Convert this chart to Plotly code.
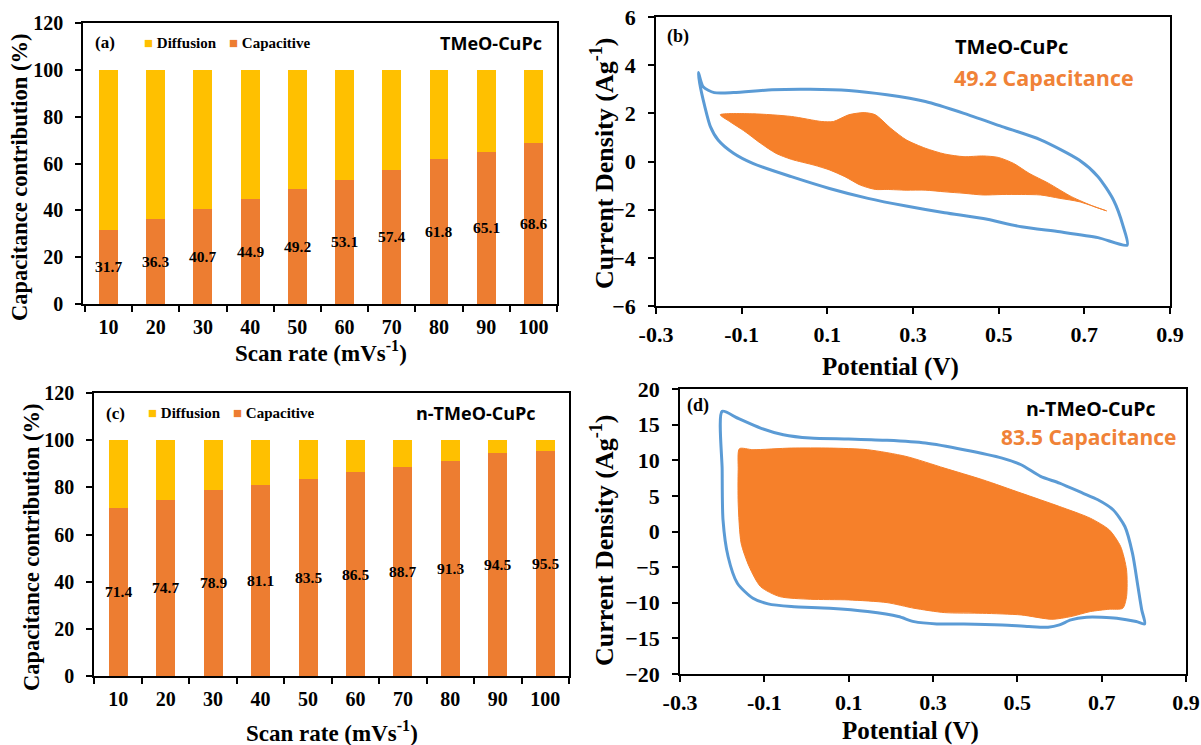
import plotly.graph_objects as go

W, H = 1201, 745

# ---- capacitance contribution data (%) ----
scan_rates = [10, 20, 30, 40, 50, 60, 70, 80, 90, 100]
cap_tmeo = [31.7, 36.3, 40.7, 44.9, 49.2, 53.1, 57.4, 61.8, 65.1, 68.6]
cap_ntmeo = [71.4, 74.7, 78.9, 81.1, 83.5, 86.5, 88.7, 91.3, 94.5, 95.5]
diff_tmeo = [round(100 - v, 1) for v in cap_tmeo]
diff_ntmeo = [round(100 - v, 1) for v in cap_ntmeo]

# ---- CV loops, TMeO-CuPc (potential V, current density A/g) ----
tmeo_total_v = [-0.201, -0.190, -0.164, -0.119, -0.029, 0.060, 0.150, 0.239, 0.329, 0.419,
                0.508, 0.598, 0.688, 0.732, 0.768, 0.791, 0.800,
                0.732, 0.643, 0.553, 0.464, 0.374, 0.284, 0.195, 0.105, 0.016,
                -0.074, -0.119, -0.155, -0.173, -0.186, -0.198, -0.201]
tmeo_total_j = [3.70, 3.10, 2.86, 2.86, 2.98, 3.00, 2.95, 2.77, 2.49, 2.00,
                1.45, 0.90, 0.06, -0.63, -1.60, -2.71, -3.47,
                -3.16, -2.92, -2.71, -2.37, -2.13, -1.85, -1.53, -1.12, -0.63,
                -0.08, 0.34, 0.89, 1.45, 2.28, 3.25, 3.70]
tmeo_cap_v = [-0.150, -0.074, 0.016, 0.087, 0.114, 0.150, 0.186, 0.212, 0.248, 0.284,
              0.329, 0.374, 0.419, 0.464, 0.499, 0.535, 0.571, 0.616, 0.670, 0.724, 0.752,
              0.688, 0.643, 0.598, 0.553, 0.508, 0.464, 0.419, 0.374, 0.329, 0.284,
              0.239, 0.212, 0.177, 0.141, 0.105, 0.069, 0.016, -0.020, -0.056, -0.092,
              -0.128, -0.150]
tmeo_cap_j = [1.94, 1.98, 1.87, 1.66, 1.66, 1.94, 2.03, 1.94, 1.38, 0.90,
              0.55, 0.31, 0.20, 0.23, 0.17, -0.08, -0.49, -0.90, -1.46, -1.88, -2.05,
              -1.67, -1.53, -1.39, -1.37, -1.37, -1.39, -1.32, -1.26, -1.19, -1.19,
              -1.16, -1.16, -0.98, -0.63, -0.35, -0.15, 0.09, 0.34, 0.76, 1.24,
              1.66, 1.94]

# ---- CV loops, n-TMeO-CuPc ----
ntmeo_total_v = [-0.200, -0.164, -0.109, -0.055, 0.009, 0.100, 0.191, 0.282, 0.373, 0.464,
                 0.509, 0.555, 0.600, 0.655, 0.691, 0.727, 0.755, 0.773, 0.786, 0.795, 0.802,
                 0.782, 0.736, 0.700, 0.664, 0.627, 0.600, 0.573, 0.527, 0.464, 0.373,
                 0.309, 0.255, 0.218, 0.145, 0.055, -0.036, -0.091, -0.127, -0.164,
                 -0.186, -0.198, -0.200, -0.200]
ntmeo_total_j = [16.86, 15.93, 14.52, 13.58, 13.11, 12.97, 12.79, 12.41, 11.48, 10.30,
                 9.37, 7.73, 6.79, 5.39, 4.45, 3.05, 0.70, -3.04, -7.73, -11.0, -12.97,
                 -12.64, -12.17, -12.04, -12.04, -12.41, -13.11, -13.44, -13.35, -13.11, -12.97,
                 -12.97, -12.65, -11.94, -11.24, -10.77, -10.54, -10.16, -9.37, -7.26,
                 -3.51, 1.64, 8.67, 16.86]
ntmeo_cap_v = [-0.159, -0.127, -0.036, 0.055, 0.145, 0.236, 0.327, 0.418, 0.509, 0.600,
               0.673, 0.718, 0.745, 0.759, 0.759, 0.750,
               0.718, 0.673, 0.627, 0.582, 0.509, 0.418, 0.327, 0.255, 0.191, 0.100,
               0.009, -0.064, -0.109, -0.136, -0.155, -0.162, -0.162, -0.159]
ntmeo_cap_j = [11.62, 11.48, 11.71, 11.71, 11.48, 10.54, 8.90, 7.26, 5.39, 3.51,
               1.87, 0.23, -2.11, -5.39, -9.13, -10.77,
               -10.91, -11.24, -11.94, -12.32, -11.71, -11.48, -11.38, -10.77, -9.98, -9.60,
               -9.51, -9.13, -7.73, -4.92, -1.64, 3.98, 8.67, 11.62]

# ---- styling ----
CAP_BAR = "#ED7D31"
DIFF_BAR = "#FFC000"
CV_LINE = "#5B9BD5"
CV_FILL = "#F6802A"
LABEL_ORANGE = "#F08237"
SERIF = "Liberation Serif"
SANS = "Open Sans"


def px(xp):
    return xp / W


def py(yp):
    return 1 - yp / H


fig = go.Figure()

# stacked bars
for cap, diff, xa, ya in [(cap_tmeo, diff_tmeo, "x", "y"), (cap_ntmeo, diff_ntmeo, "x3", "y3")]:
    fig.add_trace(go.Bar(x=scan_rates, y=cap, marker_color=CAP_BAR, marker_line_width=0,
                         width=4.0, name="Capacitive", showlegend=False, xaxis=xa, yaxis=ya))
    fig.add_trace(go.Bar(x=scan_rates, y=diff, marker_color=DIFF_BAR, marker_line_width=0,
                         width=4.0, name="Diffusion", showlegend=False, xaxis=xa, yaxis=ya))

# CV loops
for tv, tj, cv, cj, xa, ya in [
    (tmeo_total_v, tmeo_total_j, tmeo_cap_v, tmeo_cap_j, "x2", "y2"),
    (ntmeo_total_v, ntmeo_total_j, ntmeo_cap_v, ntmeo_cap_j, "x4", "y4"),
]:
    fig.add_trace(go.Scatter(x=cv, y=cj, mode="lines", fill="toself", fillcolor=CV_FILL,
                             line=dict(color=CV_FILL, width=1, shape="spline", smoothing=0.7),
                             showlegend=False, xaxis=xa, yaxis=ya))
    fig.add_trace(go.Scatter(x=tv, y=tj, mode="lines",
                             line=dict(color=CV_LINE, width=3, shape="spline", smoothing=0.7),
                             showlegend=False, xaxis=xa, yaxis=ya))


def axis_style(size):
    return dict(showline=True, linecolor="black", linewidth=1.6, mirror=True,
                showgrid=False, zeroline=False, automargin=False,
                tickfont=dict(family=SERIF, size=size, color="black", weight="bold"),
                ticks="outside", ticklen=6, tickwidth=1.5, tickcolor="black")


cat_edges = [r - 5 for r in scan_rates] + [scan_rates[-1] + 5]
bar_x = dict(axis_style(20), tickvals=scan_rates, ticks="", ticklabelstandoff=4,
             minor=dict(tickvals=cat_edges, ticks="outside", ticklen=6,
                        tickwidth=1.5, tickcolor="black"))
bar_y = dict(axis_style(20), range=[0, 120], tickvals=[0, 20, 40, 60, 80, 100, 120],
             ticklabelstandoff=8)
cv_x = dict(axis_style(22), range=[-0.3, 0.9], ticklabelstandoff=2,
            tickvals=[-0.3, -0.1, 0.1, 0.3, 0.5, 0.7, 0.9],
            ticktext=["-0.3", "-0.1", "0.1", "0.3", "0.5", "0.7", "0.9"])
cv_y = dict(axis_style(22), ticklabelstandoff=8)

fig.update_layout(
    width=W, height=H,
    margin=dict(l=0, r=0, t=0, b=0, pad=0, autoexpand=False),
    paper_bgcolor="white", plot_bgcolor="white", barmode="stack", showlegend=False,
    xaxis=dict(bar_x, domain=[px(83), px(557)], range=[4.6, 105.0], anchor="y"),
    yaxis=dict(bar_y, domain=[py(304), py(23)], anchor="x"),
    xaxis3=dict(bar_x, domain=[px(94), px(569)], range=[4.9, 105.0], anchor="y3"),
    yaxis3=dict(bar_y, domain=[py(676), py(393)], anchor="x3"),
    xaxis2=dict(cv_x, domain=[px(656), px(1170)], anchor="y2"),
    yaxis2=dict(cv_y, domain=[py(306), py(17)], range=[-6, 6],
                tickvals=[-6, -4, -2, 0, 2, 4, 6], anchor="x2"),
    xaxis4=dict(cv_x, domain=[px(680), px(1186)], anchor="y4"),
    yaxis4=dict(cv_y, domain=[py(674), py(389)], range=[-20, 20],
                tickvals=[-20, -15, -10, -5, 0, 5, 10, 15, 20], anchor="x4"),
)

ann = []

# value labels centred in the capacitive bars
for cap, xa, ya in [(cap_tmeo, "x", "y"), (cap_ntmeo, "x3", "y3")]:
    for r, v in zip(scan_rates, cap):
        ann.append(dict(x=r, y=v / 2, xref=xa, yref=ya, text=f"{v}", showarrow=False,
                        font=dict(family=SERIF, size=15.5, color="black", weight="bold")))


def note(x, y, text, size, family=SERIF, color="black", xanchor="center", angle=0):
    ann.append(dict(x=px(x), y=py(y), xref="paper", yref="paper", text=text,
                    showarrow=False, xanchor=xanchor, yanchor="middle", textangle=angle,
                    font=dict(family=family, size=size, color=color, weight="bold")))


def legend_item(x, y, color, label):
    note(x, y, f"<span style='color:{color}'>■</span> {label}", 15, xanchor="left")


# panel (a)
note(105, 43, "(a)", 17)
legend_item(142, 43, DIFF_BAR, "Diffusion")
legend_item(227, 43, CAP_BAR, "Capacitive")
note(491, 43, "TMeO-CuPc", 18, family=SANS)
note(19, 178, "Capacitance contribution (%)", 22.5, angle=-90)
note(321, 352, "Scan rate (mVs<sup>-1</sup>)", 23)

# panel (c)
note(115, 413, "(c)", 17)
legend_item(146, 413, DIFF_BAR, "Diffusion")
legend_item(231, 413, CAP_BAR, "Capacitive")
note(476, 413, "n-TMeO-CuPc", 18, family=SANS)
note(31, 548, "Capacitance contribution (%)", 22.5, angle=-90)
note(332, 731, "Scan rate (mVs<sup>-1</sup>)", 23)

# panel (b)
note(678, 37, "(b)", 18)
note(1011, 47, "TMeO-CuPc", 20, family=SANS)
note(1044, 77, "49.2 Capacitance", 21.5, family=SANS, color=LABEL_ORANGE)
note(602, 163, "Current Density (Ag<sup>-1</sup>)", 26, angle=-90)
note(890, 367, "Potential (V)", 25)

# panel (d)
note(698, 405, "(d)", 18)
note(1091, 408, "n-TMeO-CuPc", 19.5, family=SANS)
note(1089, 437, "83.5 Capacitance", 21, family=SANS, color=LABEL_ORANGE)
note(602, 540, "Current Density (Ag<sup>-1</sup>)", 26, angle=-90)
note(910, 731, "Potential (V)", 25)

fig.update_layout(annotations=ann)

fig.write_html("out.html")
